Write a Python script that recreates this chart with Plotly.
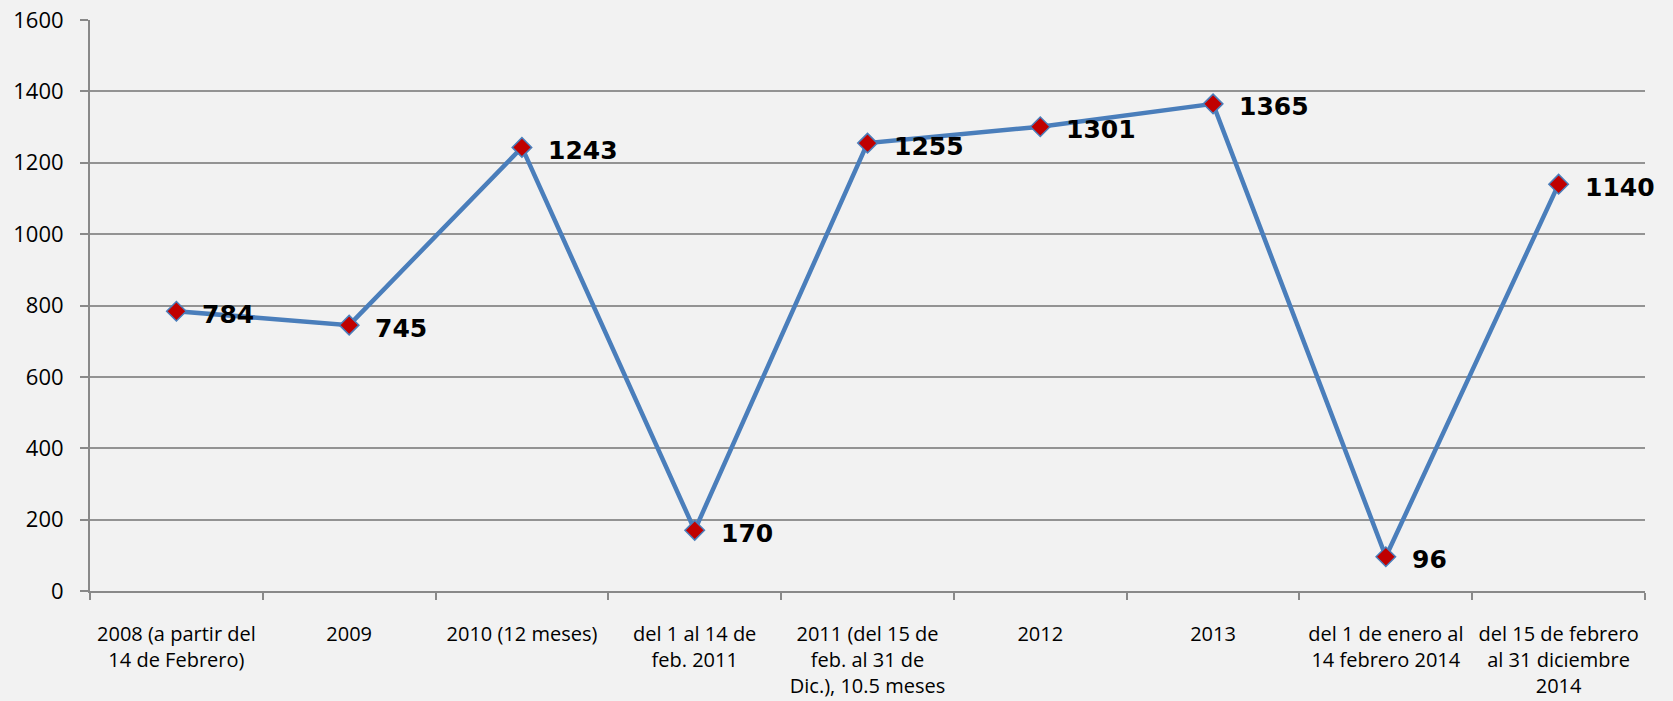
import plotly.graph_objects as go

# periods shown on the x axis
categories = [
    "2008 (a partir del<br>14 de Febrero)",
    "2009",
    "2010 (12 meses)",
    "del 1 al 14 de<br>feb. 2011",
    "2011 (del 15 de<br>feb. al 31 de<br>Dic.), 10.5 meses",
    "2012",
    "2013",
    "del 1 de enero al<br>14 febrero 2014",
    "del 15 de febrero<br>al 31 diciembre<br>2014",
]
values = [784, 745, 1243, 170, 1255, 1301, 1365, 96, 1140]
y_ticks = [0, 200, 400, 600, 800, 1000, 1200, 1400, 1600]

fig = go.Figure(go.Scatter(
    x=categories,
    y=values,
    mode="lines+markers",
    line=dict(color="#4a7ebb", width=4.5),
    marker=dict(symbol="diamond", size=15, color="#c00000",
                line=dict(color="#4a7ebb", width=1.5)),
    cliponaxis=False,
))

# value labels sit to the right of each marker
# (x given as category index, since "2012" etc. would be read as numbers)
for i, val in enumerate(values):
    fig.add_annotation(
        x=i, y=val, text=str(val),
        showarrow=False, xanchor="left", yanchor="middle",
        xshift=24, yshift=-3,
        font=dict(family="DejaVu Sans", size=25, color="black", weight="bold"),
    )

fig.update_xaxes(
    type="category",
    tickson="boundaries",
    ticks="outside",
    ticklen=7,
    tickcolor="#898989",
    tickwidth=1.5,
    showline=True,
    linecolor="#898989",
    linewidth=2,
    showgrid=False,
    tickfont=dict(family="Open Sans", size=20, color="black"),
    tickangle=0,
    ticklabelstandoff=24,
    automargin=False,
    range=[-0.5, 8.5],
)
fig.update_yaxes(
    range=[0, 1600],
    tickvals=y_ticks,
    ticks="outside",
    ticklen=8,
    tickcolor="#898989",
    tickwidth=1.5,
    showline=True,
    linecolor="#898989",
    linewidth=2,
    gridcolor="#939393",
    gridwidth=2,
    zeroline=False,
    tickfont=dict(family="Open Sans", size=22, color="black"),
    ticklabelstandoff=12,
    automargin=False,
)
fig.update_layout(
    width=1673,
    height=701,
    margin=dict(l=90, r=28, t=20, b=110),
    paper_bgcolor="#f2f2f2",
    plot_bgcolor="rgba(0,0,0,0)",
    showlegend=False,
)
fig.write_html("out.html", config={"displayModeBar": False},
               post_script="document.body.style.margin='0';")
